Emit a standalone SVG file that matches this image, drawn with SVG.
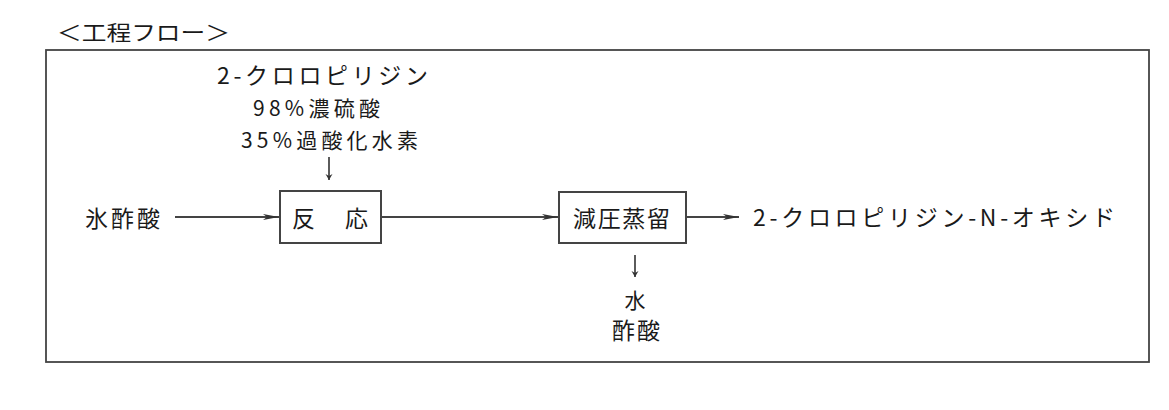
<svg xmlns="http://www.w3.org/2000/svg" width="1169" height="410" viewBox="0 0 1169 410">
<defs>
<style>
text{font-family:"Noto Sans CJK JP","Liberation Serif",sans-serif;fill:#1a1a1a;}
.t{font-size:23px;}
.s{font-size:21px;}
.box{fill:#fff;stroke:#444;stroke-width:2;}
.ln{stroke:#444;stroke-width:2;fill:none;}
.dn{stroke:#333;stroke-width:1.6;fill:none;}
</style>
<marker id="ah" viewBox="0 0 16 6" refX="16" refY="3" markerWidth="16" markerHeight="6" markerUnits="userSpaceOnUse" orient="auto">
<path d="M0 0 L16 3 L0 6 L4 3 Z" fill="#333"/>
</marker>
<marker id="dh" viewBox="0 0 8 8" refX="4" refY="8" markerWidth="8" markerHeight="8" markerUnits="userSpaceOnUse" orient="0">
<path d="M0.5 2 L4 8 L7.5 2 L4 4 Z" fill="#333"/>
</marker>
</defs>
<rect width="1169" height="410" fill="#fff"/>
<text id="title" class="s" x="57" y="40" textLength="173" lengthAdjust="spacingAndGlyphs">＜工程フロー＞</text>
<rect id="frame" x="46" y="50" width="1103" height="312" fill="none" stroke="#444" stroke-width="1.8"/>

<g id="inputs-top">
<text class="t" x="217" y="84" textLength="211" lengthAdjust="spacing">2-クロロピリジン</text>
<text class="s" x="253" y="116" textLength="127" lengthAdjust="spacing">98%濃硫酸</text>
<text class="s" x="241" y="148" textLength="177" lengthAdjust="spacing">35%過酸化水素</text>
</g>
<g id="input-left">
<text class="t" x="85" y="227" textLength="75" lengthAdjust="spacing">氷酢酸</text>
</g>
<g id="reaction">
<rect class="box" x="280" y="191" width="101" height="52"/>
<text class="t" x="292" y="227" textLength="76" lengthAdjust="spacing">反　応</text>
</g>
<g id="distillation">
<rect class="box" x="559" y="192" width="127" height="51"/>
<text class="t" x="573" y="227" textLength="97" lengthAdjust="spacing">減圧蒸留</text>
</g>
<g id="product">
<text class="t" x="753" y="226" textLength="362" lengthAdjust="spacing">2-クロロピリジン-N-オキシド</text>
</g>
<g id="byproducts">
<text class="s" x="635" y="308" text-anchor="middle">水</text>
<text class="t" x="612" y="339" textLength="48" lengthAdjust="spacing">酢酸</text>
</g>
<g id="connectors">
<line class="ln" x1="175" y1="217" x2="279" y2="217" marker-end="url(#ah)"/>
<line class="ln" x1="381" y1="217" x2="558" y2="217" marker-end="url(#ah)"/>
<line class="ln" x1="686" y1="217" x2="739" y2="217" stroke-width="1.5" marker-end="url(#ah)"/>
<line class="dn" x1="329" y1="157" x2="329" y2="180" marker-end="url(#dh)"/>
<line class="dn" x1="635" y1="255" x2="635" y2="277" marker-end="url(#dh)"/>
</g>
</svg>
